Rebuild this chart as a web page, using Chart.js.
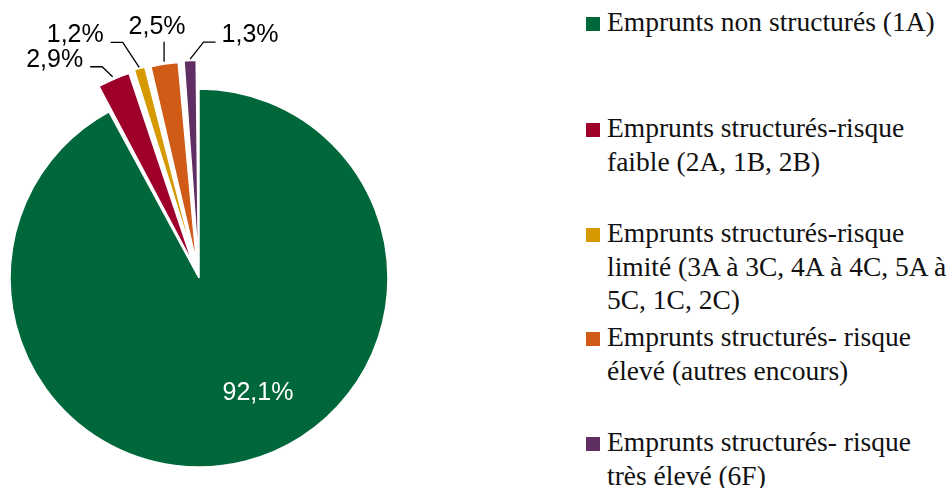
<!DOCTYPE html>
<html>
<head>
<meta charset="utf-8">
<script src="https://cdn.jsdelivr.net/npm/chart.js@4"></script>
<style>
  body { margin: 0; background: #fff; width: 951px; height: 488px; position: relative; overflow: hidden; }
  #wrap { position: absolute; left: 0; top: 0; width: 400px; height: 488px; }
  #legend { position: absolute; left: 0; top: 0; }
  .item { position: absolute; left: 607px; width: 349px; font-family: "Liberation Serif", serif; font-size: 27.5px; line-height: 33.5px; color: #111; }
  .box { position: absolute; left: -21px; width: 14px; height: 14px; }
</style>
</head>
<body>
<div id="wrap"><canvas id="chart" width="400" height="488"></canvas></div>
<div id="legend"></div>
<script>
const categories = [
  'Emprunts non structurés (1A)',
  'Emprunts structurés-risque faible (2A, 1B, 2B)',
  'Emprunts structurés-risque limité (3A à 3C, 4A à 4C, 5A à 5C, 1C, 2C)',
  'Emprunts structurés- risque élevé (autres encours)',
  'Emprunts structurés- risque très élevé (6F)'
];
const shares = [92.1, 2.9, 1.2, 2.5, 1.3];
const labels = ['92,1%', '2,9%', '1,2%', '2,5%', '1,3%'];
const colors = ['#00673B', '#9E0029', '#D69A00', '#D05B16', '#5F2E63'];

// layout of the labels (text centre relative to slice anchor) and legend rows
const labelShift = [[59, 115], [-58, -17], [-64, -32], [-7, -35], [60, -24]];
const legendTops = [5, 111, 216, 320, 425];

// legend
const legend = document.getElementById('legend');
categories.forEach((c, i) => {
  const d = document.createElement('div');
  d.className = 'item';
  d.style.top = legendTops[i] + 'px';
  d.innerHTML = `<span class="box" style="background:${colors[i]};top:12px"></span>${c}`;
  legend.appendChild(d);
});

const pieLabels = {
  id: 'pieLabels',
  afterDatasetsDraw(chart) {
    const ctx = chart.ctx;
    const arcs = chart.getDatasetMeta(0).data;
    ctx.save();
    ctx.font = '25px "Liberation Sans", Arial, sans-serif';
    ctx.textBaseline = 'middle';
    ctx.textAlign = 'center';
    arcs.forEach((arc, i) => {
      const p = arc.getProps(['x', 'y', 'startAngle', 'endAngle', 'outerRadius']);
      // chart.js moves an offset slice by half its offset
      const off = (arc.options.offset || 0) / 2;
      const mid = (p.startAngle + p.endAngle) / 2;
      const s = labelShift[i];
      if (i === 0) {
        ctx.fillStyle = '#fff';
        ctx.fillText(labels[i], p.x + s[0], p.y + s[1]);
        return;
      }
      const r = p.outerRadius + off;
      const ax = p.x + Math.cos(mid) * r;
      const ay = p.y + Math.sin(mid) * r;
      const tx = ax + s[0], ty = ay + s[1];
      const w = ctx.measureText(labels[i]).width;
      ctx.fillStyle = '#000';
      ctx.fillText(labels[i], tx, ty);
      ctx.strokeStyle = '#000';
      ctx.lineWidth = 1.3;
      ctx.beginPath();
      if (Math.abs(s[0]) < 20) {
        ctx.moveTo(ax, ay);
        ctx.lineTo(ax, ty + 15);
      } else if (s[0] < 0) {
        const ex = tx + w / 2 + 7;
        ctx.moveTo(ax, ay);
        ctx.lineTo(ex + 12, ty + 7);
        ctx.lineTo(ex, ty + 7);
      } else {
        const ex = tx - w / 2 - 6;
        ctx.moveTo(ax, ay);
        ctx.lineTo(ex - 12, ty + 7);
        ctx.lineTo(ex, ty + 7);
      }
      ctx.stroke();
    });
    ctx.restore();
  }
};

new Chart(document.getElementById('chart'), {
  type: 'pie',
  data: {
    labels: categories,
    datasets: [{
      data: shares,
      backgroundColor: colors,
      borderColor: '#fff',
      borderWidth: 1.5,
      offset: [0, 60, 60, 60, 60]
    }]
  },
  options: {
    responsive: false,
    animation: false,
    events: [],
    radius: 189,
    layout: { padding: { left: 0, right: 2, top: 68, bottom: 0 } },
    plugins: { legend: { display: false }, tooltip: { enabled: false } }
  },
  plugins: [pieLabels]
});
</script>
</body>
</html>
